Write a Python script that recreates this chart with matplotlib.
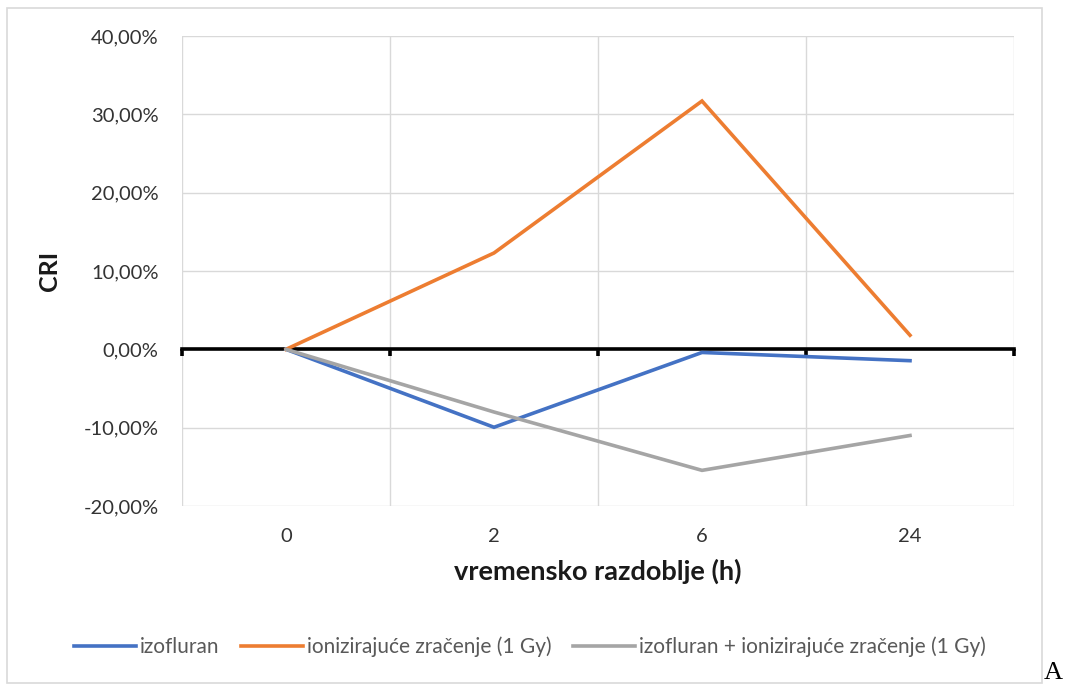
import numpy as np
import matplotlib.pyplot as plt
from matplotlib.ticker import FuncFormatter, FixedLocator
from matplotlib.patches import Rectangle

categories = ['0', '2', '6', '24']
izofluran = [0.0, -9.95, -0.4, -1.45]
zracenje = [0.0, 12.3, 31.7, 1.8]
kombinacija = [0.0, -8.0, -15.45, -11.0]
series_names = ['izofluran', 'ionizirajuće zračenje (1 Gy)',
                'izofluran + ionizirajuće zračenje (1 Gy)']
colors = ['#4472C4', '#ED7D31', '#A5A5A5']

plt.rcParams['font.family'] = ['Lato', 'DejaVu Sans']

fig = plt.figure(figsize=(10.7, 6.84), dpi=100)
ax = fig.add_axes([182/1070, 1-506/684, 832/1070, 470/684])

x = np.arange(len(categories))
for vals, name, c in zip([izofluran, zracenje, kombinacija], series_names, colors):
    ax.plot(x, vals, color=c, lw=2.6, label=name, solid_joinstyle='miter', zorder=3)

ax.set_xlim(-0.5, len(categories) - 0.5)
ax.set_ylim(-20, 40)
ax.set_yticks(np.arange(-20, 41, 10))
ax.yaxis.set_major_formatter(FuncFormatter(lambda v, p: ('%.2f%%' % v).replace('.', ',')))

# gridlines between categories (Excel style)
ax.xaxis.set_minor_locator(FixedLocator(np.arange(-0.5, len(categories), 1.0)))
ax.set_xticks([])
ax.grid(True, which='minor', axis='x', color='#D9D9D9', lw=1)
ax.grid(True, which='major', axis='y', color='#D9D9D9', lw=1)
ax.set_axisbelow(True)

for s in ['top', 'right', 'left']:
    ax.spines[s].set_visible(False)
# horizontal axis line through zero
ax.spines['bottom'].set_position(('data', 0))
ax.spines['bottom'].set_color('black')
ax.spines['bottom'].set_linewidth(2.6)
ax.spines['bottom'].set_zorder(2)
ax.tick_params(axis='x', which='minor', direction='out', length=5, width=2.6,
               color='black', labelbottom=False)
ax.tick_params(axis='y', length=0, pad=17, labelsize=14.5, labelcolor='#333333')

# category labels at the bottom of the plot area
sec = ax.secondary_xaxis('bottom')
sec.set_xticks(x, categories)
sec.spines['bottom'].set_visible(False)
sec.tick_params(length=0, pad=16, labelsize=14.5, labelcolor='#333333')
sec.set_xlabel('vremensko razdoblje (h)', fontsize=19.5, fontweight='bold',
               color='#1a1a1a', labelpad=10)

ax.set_ylabel('CRI', fontsize=18, fontweight='bold', color='#1a1a1a', labelpad=16)

fig.legend(loc='center', bbox_to_anchor=(530/1070, 1-647/684), ncol=3,
           frameon=False, fontsize=15, handlelength=3.0, handletextpad=0.2,
           columnspacing=1.0, labelcolor='#595959')

fig.patches.append(Rectangle((7/1070, 1/684), 1035/1070, 675/684,
                             transform=fig.transFigure, fill=False,
                             edgecolor='#D9D9D9', lw=1.2))
fig.text(1044/1070, 5/684, 'A', family='Liberation Serif', fontsize=19,
         va='baseline', ha='left')

fig.savefig('out.png', dpi=100)
